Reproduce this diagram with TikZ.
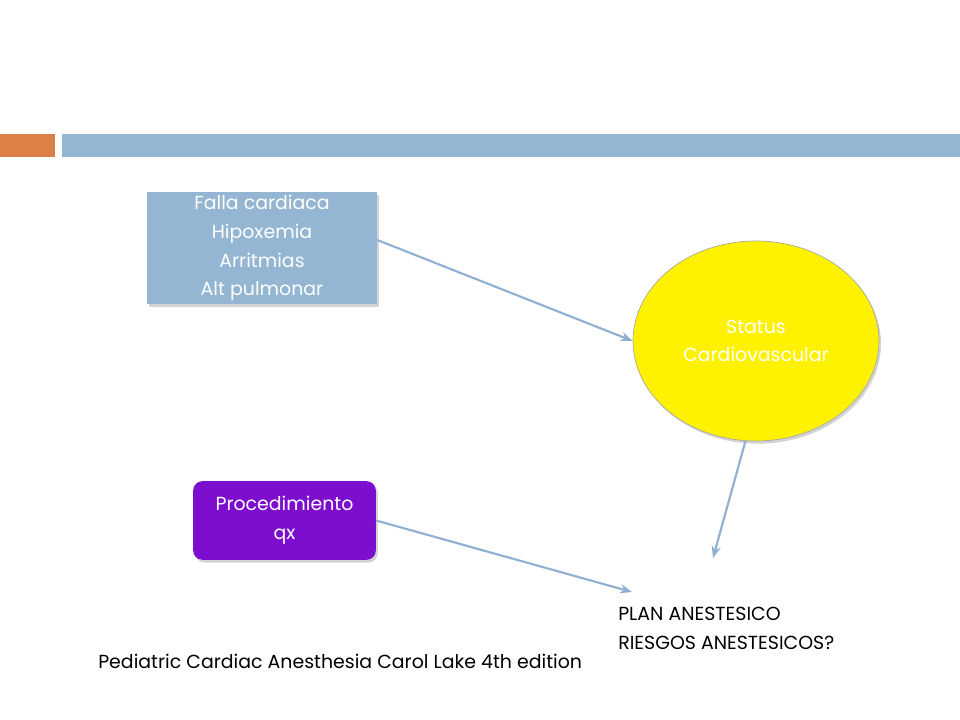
\documentclass[tikz,border=0pt]{standalone}
\usepackage{fontspec}
\setmainfont{Poppins}
\usetikzlibrary{shapes.geometric,shadows,arrows.meta}
\definecolor{barblue}{RGB}{148,182,210}
\definecolor{barorange}{RGB}{221,128,71}
\definecolor{boxpurple}{RGB}{126,14,206}
\definecolor{arrowblue}{RGB}{143,176,210}
\tikzset{
  txt/.style={font=\fontsize{14.2}{21.4}\selectfont,align=center,text=white},
  shade/.style={drop shadow={opacity=0.35,shadow xshift=1.5pt,shadow yshift=-2pt}},
  conn/.style={draw=arrowblue,line width=1.6pt,-{Stealth[length=9pt,width=7pt]}}
}
\begin{document}
\begin{tikzpicture}[x=0.75pt,y=-0.75pt]
\useasboundingbox (0,0) rectangle (960,720);
% header bars
\fill[barorange] (0,134) rectangle (55,157);
\fill[barblue] (62,134) rectangle (960,157);
% nodes
\node[txt,shade,fill=barblue,minimum width=172.5pt,minimum height=84pt,inner sep=0pt] (causes) at (262,248)
  {Falla cardiaca\\Hipoxemia\\Arritmias\\Alt pulmonar};
\node[txt,shade,ellipse,fill=yellow,draw=black!35,line width=0.5pt,minimum width=184.5pt,minimum height=150pt,inner sep=0pt] (status) at (756,341)
  {Status\\Cardiovascular};
\node[txt,shade,fill=boxpurple,rounded corners=7pt,minimum width=137pt,minimum height=59pt,inner sep=0pt] (proc) at (284.5,520.5)
  {Procedimiento\\qx};
\node[anchor=north west,align=left,inner sep=0pt,font=\fontsize{14.2}{21.4}\selectfont] (plan) at (618,607)
  {PLAN ANESTESICO\\RIESGOS ANESTESICOS?};
\node[anchor=north west,inner sep=0pt,font=\fontsize{14.2}{17}\selectfont] (ref) at (98,654)
  {Pediatric Cardiac Anesthesia Carol Lake 4th edition};
% free ends
\coordinate (planin) at (713,558);
\coordinate (planleft) at (632,592);
% connectors
\draw[conn] ([yshift=6pt]causes.east) -- (status.west);
\draw[conn] (status.-96) -- (planin);
\draw[conn] (proc.east) -- (planleft);
\end{tikzpicture}
\end{document}
